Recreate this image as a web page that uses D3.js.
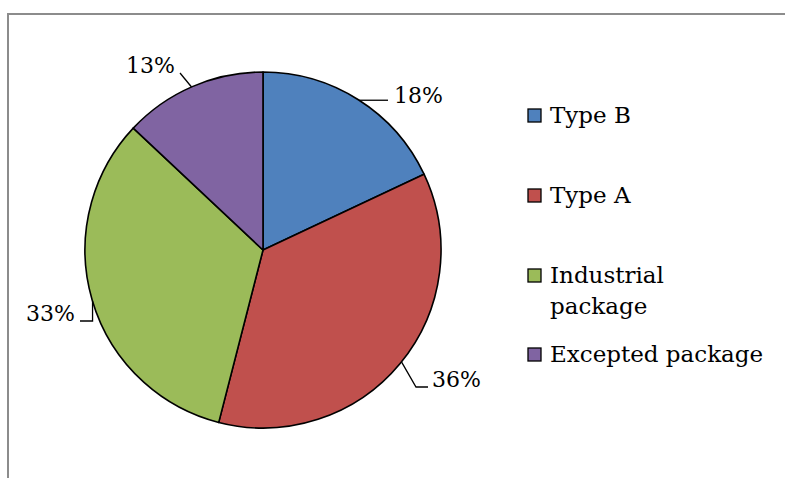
<!DOCTYPE html>
<html>
<head>
<meta charset="utf-8">
<script src="https://cdn.jsdelivr.net/npm/d3@7/dist/d3.min.js"></script>
<style>
  html, body { margin: 0; padding: 0; background: #fff; }
  svg { display: block; }
  text { font-family: "DejaVu Serif", serif; fill: #000; font-size: 22px; }
  .legend text { font-size: 23px; }
</style>
</head>
<body>
<svg id="chart" width="785" height="478"></svg>
<script>
// Shares of shipments by package type (percent)
const categories = ["Type B", "Type A", "Industrial package", "Excepted package"];
const shares = [18, 36, 33, 13];
const colors = ["#4F81BD", "#C0504D", "#9BBB59", "#8064A2"];
const legendLines = [["Type B"], ["Type A"], ["Industrial", "package"], ["Excepted package"]];

const svg = d3.select("#chart");

// chart area frame
svg.append("path")
  .attr("d", "M8,478 L8,14 L785,14")
  .attr("fill", "none")
  .attr("stroke", "#8c8c8c")
  .attr("stroke-width", 2);

const cx = 263, cy = 250, r = 178;
const data = categories.map((c, i) => ({ name: c, value: shares[i], color: colors[i] }));

const pie = d3.pie().value(d => d.value).sort(null);
const arcs = pie(data);
const arc = d3.arc().innerRadius(0).outerRadius(r);

const g = svg.append("g").attr("transform", `translate(${cx},${cy})`);
g.selectAll("path.slice")
  .data(arcs)
  .join("path")
  .attr("class", "slice")
  .attr("d", arc)
  .attr("fill", d => d.data.color)
  .attr("stroke", "#000")
  .attr("stroke-width", 1.6)
  .attr("stroke-linejoin", "round");

// data labels with leader lines; each leader starts on the slice rim
const rim = a => [r * Math.sin(a), -r * Math.cos(a)];
const labelLayout = [
  { rimAngle: 0.571, bends: p => [[125, p[1]]],                 anchor: "start", tx: 131,  ty: -147 },
  { rimAngle: 2.25,  bends: p => [[153, 137], [165, 137]],      anchor: "start", tx: 169,  ty: 137 },
  { rimAngle: 4.42,  bends: p => [[p[0], 71], [-183, 71]],      anchor: "end",   tx: -188, ty: 71 },
  { rimAngle: 5.87,  bends: p => [[-83, -177]],                 anchor: "end",   tx: -88,  ty: -177 }
];
const leader = d3.line();
arcs.forEach((a, i) => {
  const s = labelLayout[i];
  const p = rim(s.rimAngle);
  g.append("path")
    .attr("d", leader([p, ...s.bends(p)]))
    .attr("fill", "none")
    .attr("stroke", "#000")
    .attr("stroke-width", 1.3);
  g.append("text")
    .attr("x", s.tx)
    .attr("y", s.ty)
    .attr("text-anchor", s.anchor)
    .text(`${a.data.value}%`);
});

// legend
const legendX = 528;
const baseY = [123, 203, 283, 362];
const lg = svg.append("g").attr("class", "legend");
data.forEach((d, i) => {
  lg.append("rect")
    .attr("x", legendX)
    .attr("y", baseY[i] - 14)
    .attr("width", 13)
    .attr("height", 13)
    .attr("fill", d.color)
    .attr("stroke", "#000")
    .attr("stroke-width", 1.3);
  legendLines[i].forEach((line, j) => {
    lg.append("text")
      .attr("x", legendX + 22)
      .attr("y", baseY[i] + j * 31)
      .text(line);
  });
});
</script>
</body>
</html>
